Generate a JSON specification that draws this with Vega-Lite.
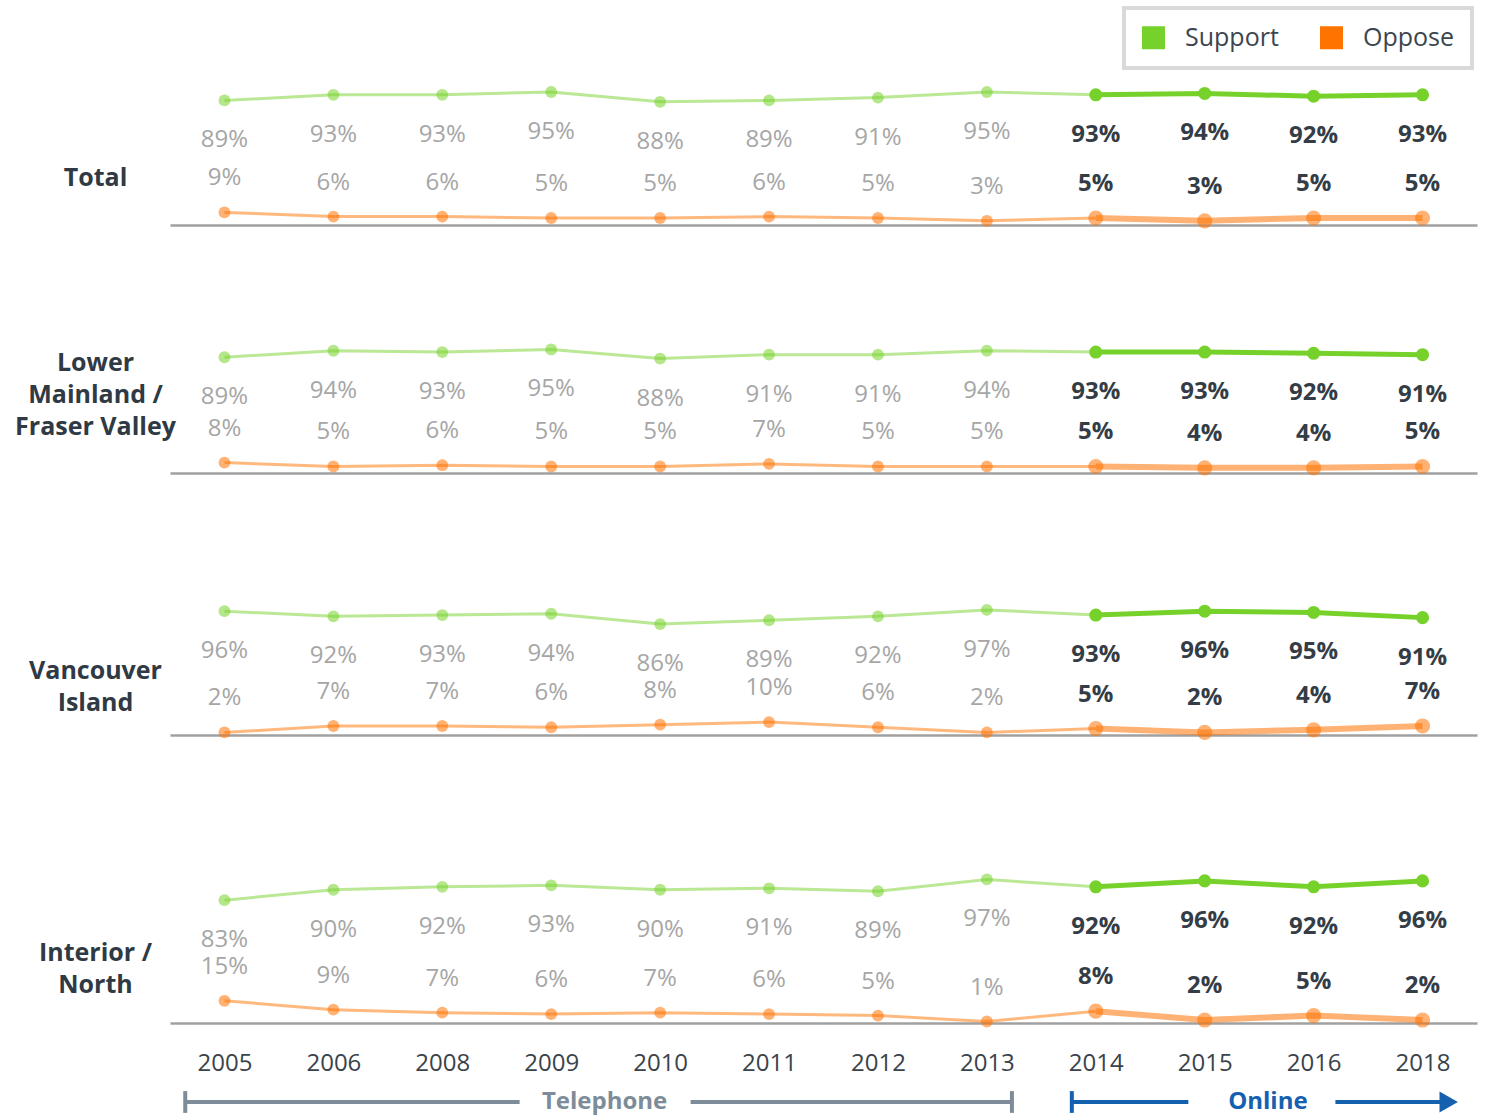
{
  "$schema": "https://vega.github.io/schema/vega-lite/v6.json",
  "padding": {"left": 14, "top": 6, "right": 5, "bottom": 5},
  "data": {"values": [
    {"region":"T","year":"2005","measure":"Support","value":0.89},{"region":"T","year":"2006","measure":"Support","value":0.93},{"region":"T","year":"2008","measure":"Support","value":0.93},{"region":"T","year":"2009","measure":"Support","value":0.95},{"region":"T","year":"2010","measure":"Support","value":0.88},{"region":"T","year":"2011","measure":"Support","value":0.89},{"region":"T","year":"2012","measure":"Support","value":0.91},{"region":"T","year":"2013","measure":"Support","value":0.95},{"region":"T","year":"2014","measure":"Support","value":0.93},{"region":"T","year":"2015","measure":"Support","value":0.94},{"region":"T","year":"2016","measure":"Support","value":0.92},{"region":"T","year":"2018","measure":"Support","value":0.93},
    {"region":"T","year":"2005","measure":"Oppose","value":0.09},{"region":"T","year":"2006","measure":"Oppose","value":0.06},{"region":"T","year":"2008","measure":"Oppose","value":0.06},{"region":"T","year":"2009","measure":"Oppose","value":0.05},{"region":"T","year":"2010","measure":"Oppose","value":0.05},{"region":"T","year":"2011","measure":"Oppose","value":0.06},{"region":"T","year":"2012","measure":"Oppose","value":0.05},{"region":"T","year":"2013","measure":"Oppose","value":0.03},{"region":"T","year":"2014","measure":"Oppose","value":0.05},{"region":"T","year":"2015","measure":"Oppose","value":0.03},{"region":"T","year":"2016","measure":"Oppose","value":0.05},{"region":"T","year":"2018","measure":"Oppose","value":0.05},
    {"region":"LM","year":"2005","measure":"Support","value":0.89},{"region":"LM","year":"2006","measure":"Support","value":0.94},{"region":"LM","year":"2008","measure":"Support","value":0.93},{"region":"LM","year":"2009","measure":"Support","value":0.95},{"region":"LM","year":"2010","measure":"Support","value":0.88},{"region":"LM","year":"2011","measure":"Support","value":0.91},{"region":"LM","year":"2012","measure":"Support","value":0.91},{"region":"LM","year":"2013","measure":"Support","value":0.94},{"region":"LM","year":"2014","measure":"Support","value":0.93},{"region":"LM","year":"2015","measure":"Support","value":0.93},{"region":"LM","year":"2016","measure":"Support","value":0.92},{"region":"LM","year":"2018","measure":"Support","value":0.91},
    {"region":"LM","year":"2005","measure":"Oppose","value":0.08},{"region":"LM","year":"2006","measure":"Oppose","value":0.05},{"region":"LM","year":"2008","measure":"Oppose","value":0.06},{"region":"LM","year":"2009","measure":"Oppose","value":0.05},{"region":"LM","year":"2010","measure":"Oppose","value":0.05},{"region":"LM","year":"2011","measure":"Oppose","value":0.07},{"region":"LM","year":"2012","measure":"Oppose","value":0.05},{"region":"LM","year":"2013","measure":"Oppose","value":0.05},{"region":"LM","year":"2014","measure":"Oppose","value":0.05},{"region":"LM","year":"2015","measure":"Oppose","value":0.04},{"region":"LM","year":"2016","measure":"Oppose","value":0.04},{"region":"LM","year":"2018","measure":"Oppose","value":0.05},
    {"region":"VI","year":"2005","measure":"Support","value":0.96},{"region":"VI","year":"2006","measure":"Support","value":0.92},{"region":"VI","year":"2008","measure":"Support","value":0.93},{"region":"VI","year":"2009","measure":"Support","value":0.94},{"region":"VI","year":"2010","measure":"Support","value":0.86},{"region":"VI","year":"2011","measure":"Support","value":0.89},{"region":"VI","year":"2012","measure":"Support","value":0.92},{"region":"VI","year":"2013","measure":"Support","value":0.97},{"region":"VI","year":"2014","measure":"Support","value":0.93},{"region":"VI","year":"2015","measure":"Support","value":0.96},{"region":"VI","year":"2016","measure":"Support","value":0.95},{"region":"VI","year":"2018","measure":"Support","value":0.91},
    {"region":"VI","year":"2005","measure":"Oppose","value":0.02},{"region":"VI","year":"2006","measure":"Oppose","value":0.07},{"region":"VI","year":"2008","measure":"Oppose","value":0.07},{"region":"VI","year":"2009","measure":"Oppose","value":0.06},{"region":"VI","year":"2010","measure":"Oppose","value":0.08},{"region":"VI","year":"2011","measure":"Oppose","value":0.10},{"region":"VI","year":"2012","measure":"Oppose","value":0.06},{"region":"VI","year":"2013","measure":"Oppose","value":0.02},{"region":"VI","year":"2014","measure":"Oppose","value":0.05},{"region":"VI","year":"2015","measure":"Oppose","value":0.02},{"region":"VI","year":"2016","measure":"Oppose","value":0.04},{"region":"VI","year":"2018","measure":"Oppose","value":0.07},
    {"region":"IN","year":"2005","measure":"Support","value":0.83},{"region":"IN","year":"2006","measure":"Support","value":0.90},{"region":"IN","year":"2008","measure":"Support","value":0.92},{"region":"IN","year":"2009","measure":"Support","value":0.93},{"region":"IN","year":"2010","measure":"Support","value":0.90},{"region":"IN","year":"2011","measure":"Support","value":0.91},{"region":"IN","year":"2012","measure":"Support","value":0.89},{"region":"IN","year":"2013","measure":"Support","value":0.97},{"region":"IN","year":"2014","measure":"Support","value":0.92},{"region":"IN","year":"2015","measure":"Support","value":0.96},{"region":"IN","year":"2016","measure":"Support","value":0.92},{"region":"IN","year":"2018","measure":"Support","value":0.96},
    {"region":"IN","year":"2005","measure":"Oppose","value":0.15},{"region":"IN","year":"2006","measure":"Oppose","value":0.09},{"region":"IN","year":"2008","measure":"Oppose","value":0.07},{"region":"IN","year":"2009","measure":"Oppose","value":0.06},{"region":"IN","year":"2010","measure":"Oppose","value":0.07},{"region":"IN","year":"2011","measure":"Oppose","value":0.06},{"region":"IN","year":"2012","measure":"Oppose","value":0.05},{"region":"IN","year":"2013","measure":"Oppose","value":0.01},{"region":"IN","year":"2014","measure":"Oppose","value":0.08},{"region":"IN","year":"2015","measure":"Oppose","value":0.02},{"region":"IN","year":"2016","measure":"Oppose","value":0.05},{"region":"IN","year":"2018","measure":"Oppose","value":0.02}
  ]},
  "spacing": 10,
  "bounds": "full",
  "resolve": {"scale": {"x": "independent", "y": "independent"}},
  "vconcat": [
    {
      "spacing": 100,
      "bounds": "flush",
      "resolve": {"scale": {"x": "independent", "y": "independent"}},
      "vconcat": [
        {
          "width": 1307, "height": 140,
          "transform": [{"filter": {"field": "region", "equal": "T"}}],
          "encoding": {
            "x": {"field": "year", "type": "ordinal", "axis": {"labels": false}},
            "y": {"field": "value", "type": "quantitative", "scale": {"domain": [0, 1.0], "nice": false}, "axis": {"title": "Total", "titleY": 92}},
            "color": {"field": "measure", "type": "nominal", "scale": {"domain": ["Support", "Oppose"], "range": ["#76d22a", "#ff7300"]},
              "legend": {"orient": "none", "legendX": 954, "legendY": -77, "direction": "horizontal", "title": null}}
          },
          "layer": [
            {"transform": [{"filter": "datum.year <= '2014'"}], "mark": {"type": "line", "strokeWidth": 3, "opacity": 0.5}},
            {"transform": [{"filter": "datum.year >= '2014' && datum.measure == 'Support'"}], "mark": {"type": "line", "strokeWidth": 5}},
            {"transform": [{"filter": "datum.year >= '2014' && datum.measure == 'Oppose'"}], "mark": {"type": "line", "strokeWidth": 6, "opacity": 0.55}},
            {"transform": [{"filter": "datum.year <= '2013'"}], "mark": {"type": "circle", "size": 140, "opacity": 0.55}},
            {"transform": [{"filter": "datum.year >= '2014' && datum.measure == 'Support'"}], "mark": {"type": "circle", "size": 170, "opacity": 1}},
            {"transform": [{"filter": "datum.year >= '2014' && datum.measure == 'Oppose'"}], "mark": {"type": "circle", "size": 230, "opacity": 0.55}},
            {"transform": [{"filter": "datum.year <= '2013' && datum.measure == 'Support'"}], "mark": {"type": "text", "dy": 40, "fontSize": 24, "baseline": "middle"}, "encoding": {"text": {"field": "value", "type": "quantitative", "format": ".0%"}, "color": {"value": "#a6a6a6"}}},
            {"transform": [{"filter": "datum.year <= '2013' && datum.measure == 'Oppose'"}], "mark": {"type": "text", "dy": -34, "fontSize": 24, "baseline": "middle"}, "encoding": {"text": {"field": "value", "type": "quantitative", "format": ".0%"}, "color": {"value": "#a6a6a6"}}},
            {"transform": [{"filter": "datum.year >= '2014' && datum.measure == 'Support'"}], "mark": {"type": "text", "dy": 40, "fontSize": 24, "fontWeight": "bold", "baseline": "middle"}, "encoding": {"text": {"field": "value", "type": "quantitative", "format": ".0%"}, "color": {"value": "#343d46"}}},
            {"transform": [{"filter": "datum.year >= '2014' && datum.measure == 'Oppose'"}], "mark": {"type": "text", "dy": -34, "fontSize": 24, "fontWeight": "bold", "baseline": "middle"}, "encoding": {"text": {"field": "value", "type": "quantitative", "format": ".0%"}, "color": {"value": "#343d46"}}}
          ]
        },
        {
          "width": 1307, "height": 148,
          "transform": [{"filter": {"field": "region", "equal": "LM"}}],
          "encoding": {
            "x": {"field": "year", "type": "ordinal", "axis": {"labels": false}},
            "y": {"field": "value", "type": "quantitative", "scale": {"domain": [0, 1.138], "nice": false}, "axis": {"title": ["Lower", "Mainland /", "Fraser Valley"], "titleY": 37}},
            "color": {"field": "measure", "type": "nominal", "scale": {"domain": ["Support", "Oppose"], "range": ["#76d22a", "#ff7300"]}}
          },
          "layer": [
            {"transform": [{"filter": "datum.year <= '2014'"}], "mark": {"type": "line", "strokeWidth": 3, "opacity": 0.5}},
            {"transform": [{"filter": "datum.year >= '2014' && datum.measure == 'Support'"}], "mark": {"type": "line", "strokeWidth": 5}},
            {"transform": [{"filter": "datum.year >= '2014' && datum.measure == 'Oppose'"}], "mark": {"type": "line", "strokeWidth": 6, "opacity": 0.55}},
            {"transform": [{"filter": "datum.year <= '2013'"}], "mark": {"type": "circle", "size": 140, "opacity": 0.55}},
            {"transform": [{"filter": "datum.year >= '2014' && datum.measure == 'Support'"}], "mark": {"type": "circle", "size": 170, "opacity": 1}},
            {"transform": [{"filter": "datum.year >= '2014' && datum.measure == 'Oppose'"}], "mark": {"type": "circle", "size": 230, "opacity": 0.55}},
            {"transform": [{"filter": "datum.year <= '2013' && datum.measure == 'Support'"}], "mark": {"type": "text", "dy": 40, "fontSize": 24, "baseline": "middle"}, "encoding": {"text": {"field": "value", "type": "quantitative", "format": ".0%"}, "color": {"value": "#a6a6a6"}}},
            {"transform": [{"filter": "datum.year <= '2013' && datum.measure == 'Oppose'"}], "mark": {"type": "text", "dy": -34, "fontSize": 24, "baseline": "middle"}, "encoding": {"text": {"field": "value", "type": "quantitative", "format": ".0%"}, "color": {"value": "#a6a6a6"}}},
            {"transform": [{"filter": "datum.year >= '2014' && datum.measure == 'Support'"}], "mark": {"type": "text", "dy": 40, "fontSize": 24, "fontWeight": "bold", "baseline": "middle"}, "encoding": {"text": {"field": "value", "type": "quantitative", "format": ".0%"}, "color": {"value": "#343d46"}}},
            {"transform": [{"filter": "datum.year >= '2014' && datum.measure == 'Oppose'"}], "mark": {"type": "text", "dy": -34, "fontSize": 24, "fontWeight": "bold", "baseline": "middle"}, "encoding": {"text": {"field": "value", "type": "quantitative", "format": ".0%"}, "color": {"value": "#343d46"}}}
          ]
        },
        {
          "width": 1307, "height": 162,
          "transform": [{"filter": {"field": "region", "equal": "VI"}}],
          "encoding": {
            "x": {"field": "year", "type": "ordinal", "axis": {"labels": false}},
            "y": {"field": "value", "type": "quantitative", "scale": {"domain": [0, 1.256], "nice": false}, "axis": {"title": ["Vancouver", "Island"], "titleY": 97}},
            "color": {"field": "measure", "type": "nominal", "scale": {"domain": ["Support", "Oppose"], "range": ["#76d22a", "#ff7300"]}}
          },
          "layer": [
            {"transform": [{"filter": "datum.year <= '2014'"}], "mark": {"type": "line", "strokeWidth": 3, "opacity": 0.5}},
            {"transform": [{"filter": "datum.year >= '2014' && datum.measure == 'Support'"}], "mark": {"type": "line", "strokeWidth": 5}},
            {"transform": [{"filter": "datum.year >= '2014' && datum.measure == 'Oppose'"}], "mark": {"type": "line", "strokeWidth": 6, "opacity": 0.55}},
            {"transform": [{"filter": "datum.year <= '2013'"}], "mark": {"type": "circle", "size": 140, "opacity": 0.55}},
            {"transform": [{"filter": "datum.year >= '2014' && datum.measure == 'Support'"}], "mark": {"type": "circle", "size": 170, "opacity": 1}},
            {"transform": [{"filter": "datum.year >= '2014' && datum.measure == 'Oppose'"}], "mark": {"type": "circle", "size": 230, "opacity": 0.55}},
            {"transform": [{"filter": "datum.year <= '2013' && datum.measure == 'Support'"}], "mark": {"type": "text", "dy": 40, "fontSize": 24, "baseline": "middle"}, "encoding": {"text": {"field": "value", "type": "quantitative", "format": ".0%"}, "color": {"value": "#a6a6a6"}}},
            {"transform": [{"filter": "datum.year <= '2013' && datum.measure == 'Oppose'"}], "mark": {"type": "text", "dy": -34, "fontSize": 24, "baseline": "middle"}, "encoding": {"text": {"field": "value", "type": "quantitative", "format": ".0%"}, "color": {"value": "#a6a6a6"}}},
            {"transform": [{"filter": "datum.year >= '2014' && datum.measure == 'Support'"}], "mark": {"type": "text", "dy": 40, "fontSize": 24, "fontWeight": "bold", "baseline": "middle"}, "encoding": {"text": {"field": "value", "type": "quantitative", "format": ".0%"}, "color": {"value": "#343d46"}}},
            {"transform": [{"filter": "datum.year >= '2014' && datum.measure == 'Oppose'"}], "mark": {"type": "text", "dy": -34, "fontSize": 24, "fontWeight": "bold", "baseline": "middle"}, "encoding": {"text": {"field": "value", "type": "quantitative", "format": ".0%"}, "color": {"value": "#343d46"}}}
          ]
        },
        {
          "width": 1307, "height": 188,
          "transform": [{"filter": {"field": "region", "equal": "IN"}}],
          "encoding": {
            "x": {"field": "year", "type": "ordinal", "axis": {"labels": true}},
            "y": {"field": "value", "type": "quantitative", "scale": {"domain": [0, 1.27], "nice": false}, "axis": {"title": ["Interior /", "North"], "titleY": 117}},
            "color": {"field": "measure", "type": "nominal", "scale": {"domain": ["Support", "Oppose"], "range": ["#76d22a", "#ff7300"]}}
          },
          "layer": [
            {"transform": [{"filter": "datum.year <= '2014'"}], "mark": {"type": "line", "strokeWidth": 3, "opacity": 0.5}},
            {"transform": [{"filter": "datum.year >= '2014' && datum.measure == 'Support'"}], "mark": {"type": "line", "strokeWidth": 5}},
            {"transform": [{"filter": "datum.year >= '2014' && datum.measure == 'Oppose'"}], "mark": {"type": "line", "strokeWidth": 6, "opacity": 0.55}},
            {"transform": [{"filter": "datum.year <= '2013'"}], "mark": {"type": "circle", "size": 140, "opacity": 0.55}},
            {"transform": [{"filter": "datum.year >= '2014' && datum.measure == 'Support'"}], "mark": {"type": "circle", "size": 170, "opacity": 1}},
            {"transform": [{"filter": "datum.year >= '2014' && datum.measure == 'Oppose'"}], "mark": {"type": "circle", "size": 230, "opacity": 0.55}},
            {"transform": [{"filter": "datum.year <= '2013' && datum.measure == 'Support'"}], "mark": {"type": "text", "dy": 40, "fontSize": 24, "baseline": "middle"}, "encoding": {"text": {"field": "value", "type": "quantitative", "format": ".0%"}, "color": {"value": "#a6a6a6"}}},
            {"transform": [{"filter": "datum.year <= '2013' && datum.measure == 'Oppose'"}], "mark": {"type": "text", "dy": -34, "fontSize": 24, "baseline": "middle"}, "encoding": {"text": {"field": "value", "type": "quantitative", "format": ".0%"}, "color": {"value": "#a6a6a6"}}},
            {"transform": [{"filter": "datum.year >= '2014' && datum.measure == 'Support'"}], "mark": {"type": "text", "dy": 40, "fontSize": 24, "fontWeight": "bold", "baseline": "middle"}, "encoding": {"text": {"field": "value", "type": "quantitative", "format": ".0%"}, "color": {"value": "#343d46"}}},
            {"transform": [{"filter": "datum.year >= '2014' && datum.measure == 'Oppose'"}], "mark": {"type": "text", "dy": -34, "fontSize": 24, "fontWeight": "bold", "baseline": "middle"}, "encoding": {"text": {"field": "value", "type": "quantitative", "format": ".0%"}, "color": {"value": "#343d46"}}}
          ]
        }
      ]
    },
    {
      "width": 1307, "height": 34,
      "data": {"values": [
        {"group": "Telephone", "part": "line", "x1": 0.14, "x2": 3.21},
        {"group": "Telephone", "part": "line", "x1": 4.78, "x2": 7.73},
        {"group": "Online", "part": "line", "x1": 8.28, "x2": 9.35},
        {"group": "Online", "part": "line", "x1": 10.70, "x2": 11.70},
        {"group": "Telephone", "part": "tick", "x1": 0.14},
        {"group": "Telephone", "part": "tick", "x1": 7.73},
        {"group": "Online", "part": "tick", "x1": 8.28},
        {"group": "Online", "part": "arrow", "x1": 11.74},
        {"group": "Telephone", "part": "label", "x1": 3.99, "text": "Telephone"},
        {"group": "Online", "part": "label", "x1": 10.08, "text": "Online"}
      ]},
      "encoding": {
        "x": {"field": "x1", "type": "quantitative", "scale": {"domain": [0, 12], "nice": false, "zero": false}, "axis": null}
      },
      "layer": [
        {"transform": [{"filter": "datum.part == 'line' && datum.group == 'Telephone'"}], "mark": {"type": "rule", "strokeWidth": 4, "color": "#7d8c98"},
         "encoding": {"x2": {"field": "x2"}, "y": {"datum": 0.5, "type": "quantitative", "scale": {"domain": [0, 1]}, "axis": null}}},
        {"transform": [{"filter": "datum.part == 'line' && datum.group == 'Online'"}], "mark": {"type": "rule", "strokeWidth": 4, "color": "#1660b0"},
         "encoding": {"x2": {"field": "x2"}, "y": {"datum": 0.5, "type": "quantitative", "scale": {"domain": [0, 1]}, "axis": null}}},
        {"transform": [{"filter": "datum.part == 'tick' && datum.group == 'Telephone'"}], "mark": {"type": "rule", "strokeWidth": 4, "color": "#7d8c98"},
         "encoding": {"y": {"datum": 0.18, "type": "quantitative", "scale": {"domain": [0, 1]}, "axis": null}, "y2": {"datum": 0.82}}},
        {"transform": [{"filter": "datum.part == 'tick' && datum.group == 'Online'"}], "mark": {"type": "rule", "strokeWidth": 4, "color": "#1660b0"},
         "encoding": {"y": {"datum": 0.18, "type": "quantitative", "scale": {"domain": [0, 1]}, "axis": null}, "y2": {"datum": 0.82}}},
        {"transform": [{"filter": "datum.part == 'arrow'"}], "mark": {"type": "point", "shape": "triangle-right", "filled": true, "size": 450, "opacity": 1, "color": "#1660b0"},
         "encoding": {"y": {"datum": 0.5, "type": "quantitative", "scale": {"domain": [0, 1]}, "axis": null}}},
        {"transform": [{"filter": "datum.part == 'label' && datum.group == 'Telephone'"}], "mark": {"type": "text", "fontSize": 24, "fontWeight": "bold", "baseline": "middle", "color": "#7d8c98"},
         "encoding": {"text": {"field": "text"}, "y": {"datum": 0.5, "type": "quantitative", "scale": {"domain": [0, 1]}, "axis": null}}},
        {"transform": [{"filter": "datum.part == 'label' && datum.group == 'Online'"}], "mark": {"type": "text", "fontSize": 24, "fontWeight": "bold", "baseline": "middle", "color": "#1660b0"},
         "encoding": {"text": {"field": "text"}, "y": {"datum": 0.5, "type": "quantitative", "scale": {"domain": [0, 1]}, "axis": null}}}
      ]
    }
  ],
  "config": {
    "view": {"stroke": null},
    "font": "Open Sans",
    "axisY": {"domain": false, "ticks": false, "labels": false, "grid": false, "titleAngle": 0, "titleAlign": "center", "titleBaseline": "middle", "titleX": -75, "titleFontSize": 25, "titleFontWeight": "bold", "titleColor": "#2f3a44", "titleLineHeight": 32, "titleFont": "Open Sans"},
    "axisX": {"grid": false, "ticks": false, "tickSize": 0, "title": null, "domainColor": "#a0a0a0", "domainWidth": 2.5, "labelAngle": 0, "labelFontSize": 24, "labelColor": "#3a434b", "labelPadding": 28, "labelFont": "Open Sans"},
    "legend": {"symbolType": "square", "symbolSize": 529, "symbolStrokeWidth": 0, "symbolOpacity": 1, "labelFontSize": 25, "labelColor": "#3b4550", "labelFont": "Open Sans", "labelOffset": 19, "columnPadding": 40, "padding": 17, "strokeColor": "#d9d9d9", "strokeWidth": 4}
  }
}
